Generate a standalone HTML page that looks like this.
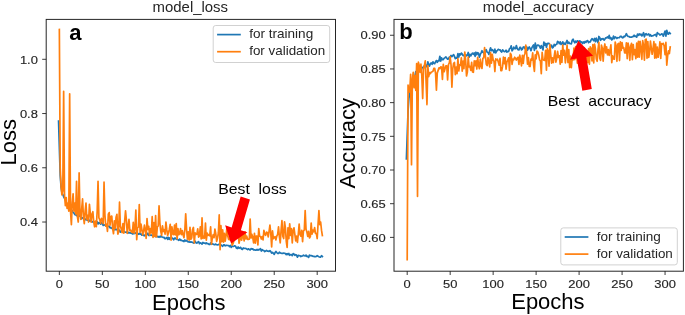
<!DOCTYPE html>
<html><head><meta charset="utf-8"><style>html,body{margin:0;padding:0;background:#fff;}svg{display:block;filter:blur(0.35px);}</style></head>
<body>
<svg width="685" height="315" viewBox="0 0 685 315" font-family="Liberation Sans, sans-serif">
<rect width="685" height="315" fill="#fff"/>
<defs>
<clipPath id="cl"><rect x="46.5" y="19.5" width="289" height="251.4"/></clipPath>
<clipPath id="cr"><rect x="394.2" y="19.5" width="289" height="251.4"/></clipPath>
</defs>
<g clip-path="url(#cl)" fill="none" stroke-linejoin="round" stroke-linecap="square">
<polyline points="58.55,121.13 60.21,175.71 61.07,186.95 61.93,192.79 62.79,194.30 63.65,196.73 64.51,198.35 65.37,199.80 66.23,203.37 67.09,204.76 67.95,205.30 68.80,206.69 69.66,208.16 70.52,210.06 71.38,210.23 72.24,210.52 73.10,212.69 73.96,212.87 74.82,214.63 75.68,214.69 76.54,215.55 77.40,214.94 78.26,216.12 79.12,215.55 79.98,216.11 80.84,216.80 81.70,218.76 82.56,217.80 83.42,217.85 84.28,218.12 85.14,219.61 85.99,219.28 86.85,220.00 87.71,220.27 88.57,219.38 89.43,221.03 90.29,220.89 91.15,220.63 92.01,221.83 92.87,221.72 93.73,221.78 94.59,222.02 95.45,223.10 96.31,222.43 97.17,221.77 98.03,223.95 98.89,222.52 99.75,223.23 100.61,224.06 101.47,222.61 102.33,223.80 103.18,225.48 104.04,224.97 104.90,224.98 105.76,225.85 106.62,225.61 107.48,226.47 108.34,226.32 109.20,226.14 110.06,227.93 110.92,227.68 111.78,228.48 112.64,228.43 113.50,229.67 114.36,229.61 115.22,229.70 116.08,229.29 116.94,229.31 117.80,231.17 118.66,231.00 119.52,230.21 120.37,232.18 121.23,231.33 122.09,231.27 122.95,230.53 123.81,231.10 124.67,231.98 125.53,232.19 126.39,232.30 127.25,231.28 128.11,232.79 128.97,232.89 129.83,232.63 130.69,233.06 131.55,233.23 132.41,233.97 133.27,233.34 134.13,233.74 134.99,232.77 135.85,233.23 136.71,233.80 137.56,233.45 138.42,234.25 139.28,233.42 140.14,234.24 141.00,233.87 141.86,235.18 142.72,234.11 143.58,235.53 144.44,235.81 145.30,234.67 146.16,235.13 147.02,234.54 147.88,233.27 148.74,235.49 149.60,235.48 150.46,235.05 151.32,234.99 152.18,235.58 153.04,235.73 153.90,235.25 154.75,235.51 155.61,236.70 156.47,236.19 157.33,236.24 158.19,237.11 159.05,236.36 159.91,237.25 160.77,236.14 161.63,236.81 162.49,237.01 163.35,237.60 164.21,237.41 165.07,238.82 165.93,238.36 166.79,237.48 167.65,239.30 168.51,237.41 169.37,239.30 170.23,237.74 171.09,238.95 171.94,237.98 172.80,238.55 173.66,239.82 174.52,238.06 175.38,238.06 176.24,239.21 177.10,239.48 177.96,239.55 178.82,240.28 179.68,239.04 180.54,240.32 181.40,240.16 182.26,240.83 183.12,240.89 183.98,241.50 184.84,239.95 185.70,241.07 186.56,240.48 187.42,241.30 188.28,241.95 189.13,241.87 189.99,242.20 190.85,241.89 191.71,242.22 192.57,242.25 193.43,243.05 194.29,242.74 195.15,241.15 196.01,242.80 196.87,243.13 197.73,242.27 198.59,241.62 199.45,243.63 200.31,242.86 201.17,243.23 202.03,244.07 202.89,242.45 203.75,243.04 204.61,243.05 205.47,243.68 206.32,242.97 207.18,243.75 208.04,243.59 208.90,244.35 209.76,244.53 210.62,242.91 211.48,244.27 212.34,243.83 213.20,244.16 214.06,244.54 214.92,244.70 215.78,244.03 216.64,244.77 217.50,244.78 218.36,244.76 219.22,244.09 220.08,244.53 220.94,244.84 221.80,245.59 222.66,246.27 223.51,244.81 224.37,244.92 225.23,245.79 226.09,245.45 226.95,245.41 227.81,245.50 228.67,245.56 229.53,246.62 230.39,245.41 231.25,247.40 232.11,246.10 232.97,246.47 233.83,246.33 234.69,245.77 235.55,246.16 236.41,248.07 237.27,248.56 238.13,246.98 238.99,248.35 239.84,247.79 240.70,247.31 241.56,249.08 242.42,249.49 243.28,247.97 244.14,248.21 245.00,248.49 245.86,248.39 246.72,249.09 247.58,249.62 248.44,248.80 249.30,249.44 250.16,249.98 251.02,248.62 251.88,249.09 252.74,248.86 253.60,249.90 254.46,249.77 255.32,250.09 256.18,250.10 257.04,249.46 257.89,250.21 258.75,249.53 259.61,249.63 260.47,248.58 261.33,251.03 262.19,249.62 263.05,250.42 263.91,250.51 264.77,251.61 265.63,251.08 266.49,250.40 267.35,251.09 268.21,251.12 269.07,251.51 269.93,250.66 270.79,251.60 271.65,253.21 272.51,252.32 273.37,253.32 274.23,254.33 275.08,252.62 275.94,251.49 276.80,252.50 277.66,253.46 278.52,253.44 279.38,252.17 280.24,252.97 281.10,253.18 281.96,253.36 282.82,253.42 283.68,253.01 284.54,253.30 285.40,253.65 286.26,254.62 287.12,253.68 287.98,254.61 288.84,253.52 289.70,255.24 290.56,254.59 291.42,254.62 292.27,255.63 293.13,253.68 293.99,253.97 294.85,255.40 295.71,254.68 296.57,255.06 297.43,257.21 298.29,255.38 299.15,255.71 300.01,255.73 300.87,256.55 301.73,256.05 302.59,256.02 303.45,255.14 304.31,255.76 305.17,256.03 306.03,255.03 306.89,256.48 307.75,256.41 308.61,257.41 309.46,255.16 310.32,255.61 311.18,255.68 312.04,255.89 312.90,256.30 313.76,256.27 314.62,256.63 315.48,256.64 316.34,256.50 317.20,255.55 318.06,256.24 318.92,256.70 319.78,257.09 320.64,257.17 321.50,255.69 322.36,256.47" stroke="#1f77b4" stroke-width="1.7"/>
<polyline points="59.35,29.47 60.21,167.78 61.07,186.76 61.93,194.90 62.79,190.83 63.65,91.30 64.51,194.90 65.37,205.75 66.23,197.61 67.09,208.46 67.95,203.04 68.80,211.17 69.66,93.74 70.52,211.17 71.38,224.73 72.24,203.04 73.10,193.82 73.96,211.17 74.82,203.04 75.68,213.88 76.54,181.34 77.40,216.60 78.26,222.02 79.12,172.93 79.98,213.88 80.84,219.31 81.70,208.46 82.56,198.97 83.42,216.60 84.28,223.65 85.14,211.17 85.99,203.04 86.85,219.31 87.71,215.27 88.57,222.02 89.43,204.36 90.29,213.34 91.15,222.20 92.01,214.02 92.87,211.70 93.73,222.02 94.59,226.77 95.45,221.04 96.31,226.63 97.17,211.23 98.03,181.34 98.89,217.83 99.75,219.54 100.61,223.43 101.47,218.40 102.33,219.71 103.18,223.54 104.04,182.15 104.90,214.86 105.76,226.13 106.62,224.24 107.48,231.29 108.34,214.16 109.20,212.53 110.06,225.14 110.92,216.47 111.78,216.05 112.64,228.28 113.50,233.75 114.36,220.93 115.22,228.53 116.08,217.16 116.94,214.28 117.80,234.05 118.66,232.00 119.52,202.22 120.37,225.93 121.23,228.91 122.09,232.61 122.95,223.65 123.81,233.26 124.67,220.98 125.53,210.90 126.39,219.89 127.25,233.35 128.11,226.32 128.97,219.23 129.83,230.64 130.69,230.04 131.55,232.12 132.41,232.64 133.27,222.41 134.13,233.07 134.99,227.55 135.85,210.09 136.71,239.63 137.56,227.62 138.42,227.13 139.28,204.59 140.14,232.45 141.00,224.19 141.86,229.42 142.72,234.85 143.58,231.06 144.44,225.10 145.30,230.07 146.16,238.33 147.02,218.49 147.88,229.34 148.74,226.43 149.60,235.21 150.46,228.56 151.32,232.91 152.18,216.70 153.04,237.50 153.90,222.55 154.75,236.34 155.61,215.51 156.47,237.01 157.33,226.97 158.19,225.99 159.05,205.75 159.91,223.34 160.77,231.34 161.63,235.31 162.49,225.89 163.35,231.47 164.21,229.76 165.07,234.09 165.93,222.02 166.79,229.68 167.65,235.61 168.51,232.74 169.37,229.14 170.23,224.25 171.09,240.12 171.94,226.85 172.80,233.93 173.66,234.64 174.52,225.05 175.38,235.02 176.24,223.65 177.10,239.01 177.96,228.65 178.82,234.69 179.68,233.77 180.54,228.60 181.40,234.67 182.26,230.53 183.12,234.93 183.98,237.66 184.84,229.71 185.70,213.88 186.56,229.17 187.42,239.17 188.28,231.76 189.13,240.08 189.99,227.26 190.85,239.45 191.71,237.95 192.57,229.58 193.43,227.44 194.29,243.00 195.15,232.91 196.01,234.37 196.87,234.43 197.73,228.89 198.59,237.15 199.45,235.70 200.31,226.91 201.17,238.99 202.03,217.95 202.89,238.37 203.75,236.32 204.61,238.01 205.47,223.03 206.32,240.26 207.18,233.11 208.04,235.43 208.90,234.71 209.76,235.77 210.62,226.76 211.48,244.20 212.34,237.87 213.20,234.70 214.06,237.73 214.92,229.04 215.78,233.62 216.64,241.32 217.50,238.16 218.36,233.00 219.22,214.97 220.08,249.61 220.94,225.71 221.80,241.59 222.66,229.76 223.51,242.13 224.37,233.43 225.23,241.12 226.09,235.23 226.95,227.60 227.81,236.24 228.67,239.47 229.53,238.99 230.39,240.44 231.25,233.78 232.11,245.07 232.97,243.72 233.83,241.00 234.69,239.54 235.55,232.90 236.41,237.49 237.27,232.76 238.13,225.36 238.99,243.20 239.84,239.52 240.70,234.45 241.56,240.20 242.42,236.55 243.28,234.88 244.14,240.80 245.00,231.75 245.86,238.94 246.72,236.17 247.58,239.32 248.44,239.36 249.30,239.27 250.16,219.01 251.02,238.05 251.88,234.44 252.74,237.26 253.60,242.97 254.46,233.23 255.32,243.11 256.18,236.17 257.04,236.18 257.89,244.91 258.75,228.52 259.61,236.28 260.47,236.52 261.33,239.05 262.19,236.56 263.05,239.81 263.91,230.34 264.77,234.15 265.63,235.26 266.49,232.17 267.35,232.59 268.21,236.96 269.07,231.32 269.93,225.13 270.79,233.46 271.65,246.84 272.51,230.80 273.37,238.65 274.23,237.50 275.08,236.61 275.94,239.93 276.80,236.17 277.66,234.41 278.52,226.85 279.38,236.70 280.24,242.81 281.10,230.22 281.96,220.69 282.82,236.22 283.68,238.56 284.54,221.75 285.40,227.99 286.26,241.30 287.12,247.43 287.98,227.80 288.84,238.71 289.70,223.92 290.56,235.36 291.42,228.58 292.27,242.88 293.13,230.49 293.99,227.81 294.85,234.43 295.71,240.84 296.57,236.10 297.43,242.32 298.29,234.24 299.15,224.06 300.01,234.51 300.87,236.23 301.73,230.39 302.59,241.60 303.45,231.04 304.31,230.01 305.17,210.63 306.03,229.30 306.89,232.10 307.75,236.36 308.61,231.34 309.46,238.00 310.32,236.64 311.18,223.06 312.04,234.08 312.90,230.16 313.76,231.82 314.62,227.55 315.48,233.31 316.34,233.47 317.20,238.55 318.06,223.94 318.92,210.63 319.78,224.73 320.64,222.02 321.50,230.16 322.36,235.58" stroke="#ff7f0e" stroke-width="1.7"/>
</g>
<g clip-path="url(#cr)" fill="none" stroke-linejoin="round" stroke-linecap="square">
<polyline points="406.40,158.82 408.06,110.72 408.92,98.28 409.78,93.21 410.64,84.65 411.50,81.79 412.36,80.63 413.22,76.52 414.08,76.21 414.94,76.04 415.80,71.52 416.65,71.66 417.51,71.31 418.37,69.25 419.23,68.04 420.09,68.27 420.95,71.57 421.81,68.09 422.67,67.36 423.53,67.84 424.39,65.79 425.25,64.01 426.11,66.19 426.97,66.83 427.83,61.83 428.69,65.19 429.55,66.03 430.41,63.54 431.27,62.95 432.13,64.31 432.99,61.78 433.84,63.36 434.70,63.69 435.56,61.74 436.42,60.55 437.28,62.31 438.14,60.57 439.00,60.88 439.86,56.24 440.72,61.16 441.58,57.84 442.44,59.75 443.30,59.65 444.16,58.17 445.02,57.70 445.88,56.92 446.74,58.10 447.60,59.25 448.46,58.94 449.32,57.17 450.18,56.85 451.03,55.42 451.89,56.65 452.75,55.48 453.61,54.59 454.47,56.37 455.33,58.60 456.19,57.93 457.05,58.16 457.91,53.57 458.77,57.10 459.63,53.92 460.49,54.79 461.35,53.02 462.21,53.98 463.07,55.53 463.93,55.58 464.79,55.07 465.65,54.84 466.51,55.79 467.37,54.96 468.22,52.44 469.08,57.25 469.94,54.25 470.80,55.89 471.66,54.18 472.52,53.09 473.38,54.30 474.24,52.95 475.10,56.34 475.96,52.22 476.82,54.64 477.68,52.71 478.54,53.24 479.40,57.23 480.26,54.40 481.12,52.83 481.98,50.74 482.84,52.50 483.70,52.42 484.56,54.78 485.41,50.45 486.27,49.77 487.13,52.27 487.99,52.51 488.85,54.45 489.71,50.61 490.57,47.78 491.43,50.59 492.29,49.65 493.15,50.59 494.01,52.72 494.87,49.15 495.73,52.83 496.59,51.18 497.45,50.32 498.31,49.29 499.17,49.85 500.03,49.76 500.89,51.33 501.75,51.98 502.60,49.86 503.46,50.89 504.32,51.66 505.18,51.47 506.04,50.21 506.90,52.11 507.76,51.24 508.62,51.55 509.48,48.73 510.34,48.28 511.20,45.79 512.06,50.87 512.92,49.54 513.78,47.06 514.64,48.61 515.50,48.66 516.36,45.52 517.22,48.52 518.08,49.70 518.93,49.91 519.79,47.43 520.65,47.44 521.51,49.90 522.37,49.29 523.23,47.01 524.09,46.91 524.95,48.69 525.81,46.78 526.67,46.82 527.53,50.28 528.39,48.07 529.25,46.96 530.11,48.39 530.97,50.68 531.83,47.84 532.69,46.22 533.55,44.90 534.41,50.40 535.27,43.19 536.12,48.64 536.98,45.47 537.84,44.98 538.70,45.26 539.56,46.40 540.42,48.22 541.28,45.53 542.14,47.38 543.00,49.89 543.86,42.11 544.72,45.06 545.58,43.40 546.44,47.19 547.30,43.67 548.16,43.36 549.02,43.27 549.88,45.33 550.74,46.82 551.60,45.24 552.46,47.89 553.32,47.04 554.17,44.42 555.03,45.75 555.89,44.47 556.75,44.25 557.61,41.34 558.47,42.05 559.33,43.71 560.19,41.89 561.05,44.39 561.91,43.65 562.77,41.85 563.63,44.53 564.49,43.12 565.35,44.36 566.21,42.42 567.07,40.41 567.93,43.42 568.79,42.11 569.65,43.48 570.50,43.74 571.36,43.78 572.22,40.32 573.08,39.13 573.94,41.43 574.80,42.86 575.66,41.04 576.52,42.26 577.38,40.81 578.24,41.38 579.10,41.33 579.96,40.87 580.82,42.25 581.68,41.98 582.54,43.49 583.40,41.90 584.26,43.00 585.12,41.42 585.98,42.31 586.84,41.01 587.69,40.54 588.55,42.65 589.41,41.88 590.27,41.94 591.13,39.86 591.99,38.62 592.85,39.46 593.71,40.68 594.57,38.49 595.43,41.69 596.29,38.19 597.15,40.44 598.01,42.65 598.87,36.48 599.73,37.53 600.59,40.28 601.45,38.81 602.31,39.09 603.17,38.60 604.03,40.21 604.88,39.18 605.74,37.77 606.60,37.96 607.46,36.82 608.32,37.98 609.18,35.41 610.04,38.71 610.90,37.56 611.76,39.88 612.62,39.08 613.48,36.18 614.34,38.59 615.20,36.91 616.06,37.48 616.92,38.48 617.78,37.65 618.64,37.76 619.50,37.66 620.36,36.24 621.22,36.27 622.08,37.54 622.93,37.82 623.79,36.46 624.65,36.80 625.51,35.51 626.37,33.68 627.23,35.57 628.09,36.44 628.95,36.52 629.81,37.18 630.67,37.19 631.53,37.25 632.39,36.55 633.25,36.54 634.11,35.24 634.97,36.42 635.83,36.16 636.69,37.21 637.55,34.10 638.41,35.28 639.26,33.86 640.12,34.88 640.98,34.10 641.84,35.91 642.70,34.83 643.56,32.67 644.42,36.81 645.28,34.22 646.14,33.62 647.00,34.93 647.86,34.52 648.72,33.93 649.58,35.95 650.44,34.76 651.30,36.09 652.16,35.84 653.02,35.73 653.88,35.18 654.74,34.82 655.60,34.45 656.46,36.41 657.31,32.69 658.17,33.52 659.03,33.92 659.89,35.02 660.75,34.67 661.61,33.93 662.47,34.01 663.33,36.19 664.19,33.54 665.05,31.15 665.91,36.18 666.77,30.33 667.63,33.69 668.49,34.14 669.35,32.50 670.21,33.43" stroke="#1f77b4" stroke-width="1.7"/>
<polyline points="407.20,259.63 408.06,85.11 408.92,92.52 409.78,90.50 410.64,74.33 411.50,164.62 412.36,79.05 413.22,72.31 414.08,87.81 414.94,75.68 415.80,90.50 416.65,63.55 417.51,196.29 418.37,62.20 419.23,65.57 420.09,72.31 420.95,64.22 421.81,75.68 422.67,98.59 423.53,68.94 424.39,65.57 425.25,60.85 426.11,82.42 426.97,104.65 427.83,65.57 428.69,76.70 429.55,72.61 430.41,73.60 431.27,72.11 432.13,71.68 432.99,71.20 433.84,68.41 434.70,68.32 435.56,73.23 436.42,90.15 437.28,72.88 438.14,70.40 439.00,67.89 439.86,68.63 440.72,66.92 441.58,67.08 442.44,79.45 443.30,64.30 444.16,71.66 445.02,68.80 445.88,65.80 446.74,65.80 447.60,79.84 448.46,64.69 449.32,62.92 450.18,56.90 451.03,64.79 451.89,87.10 452.75,68.78 453.61,63.39 454.47,62.45 455.33,74.58 456.19,67.01 457.05,73.60 457.91,58.62 458.77,71.02 459.63,64.88 460.49,65.34 461.35,57.80 462.21,71.10 463.07,61.22 463.93,68.65 464.79,52.10 465.65,60.43 466.51,76.00 467.37,72.09 468.22,57.07 469.08,67.01 469.94,66.32 470.80,70.31 471.66,62.45 472.52,72.00 473.38,72.30 474.24,60.94 475.10,65.76 475.96,60.91 476.82,69.03 477.68,57.27 478.54,65.20 479.40,68.72 480.26,59.20 481.12,65.96 481.98,68.42 482.84,58.25 483.70,57.98 484.56,47.70 485.41,55.97 486.27,64.26 487.13,65.56 487.99,57.71 488.85,62.00 489.71,66.84 490.57,52.69 491.43,63.19 492.29,54.31 493.15,59.97 494.01,61.20 494.87,71.55 495.73,58.97 496.59,59.88 497.45,59.27 498.31,62.11 499.17,65.20 500.03,58.34 500.89,70.70 501.75,70.70 502.60,66.14 503.46,57.17 504.32,63.58 505.18,57.49 506.04,69.10 506.90,62.10 507.76,60.18 508.62,57.78 509.48,70.37 510.34,53.25 511.20,54.87 512.06,64.40 512.92,59.19 513.78,59.74 514.64,57.22 515.50,58.35 516.36,60.05 517.22,58.14 518.08,57.25 518.93,64.40 519.79,55.20 520.65,59.93 521.51,65.80 522.37,55.34 523.23,63.30 524.09,55.72 524.95,53.46 525.81,45.10 526.67,53.12 527.53,64.10 528.39,57.59 529.25,66.37 530.11,66.50 530.97,59.17 531.83,60.00 532.69,52.89 533.55,64.58 534.41,71.30 535.27,54.73 536.12,58.79 536.98,51.11 537.84,52.12 538.70,54.94 539.56,59.70 540.42,61.06 541.28,73.69 542.14,52.45 543.00,59.32 543.86,60.20 544.72,60.34 545.58,50.36 546.44,70.19 547.30,48.67 548.16,51.07 549.02,66.13 549.88,44.30 550.74,54.85 551.60,63.06 552.46,57.86 553.32,62.52 554.17,56.27 555.03,50.89 555.89,62.11 556.75,58.60 557.61,51.32 558.47,57.30 559.33,55.78 560.19,64.14 561.05,50.49 561.91,62.35 562.77,45.10 563.63,55.15 564.49,50.45 565.35,62.80 566.21,55.00 567.07,45.17 567.93,62.54 568.79,49.64 569.65,67.54 570.50,56.00 571.36,67.58 572.22,58.00 573.08,60.00 573.94,48.15 574.80,59.67 575.66,46.48 576.52,53.56 577.38,63.21 578.24,49.05 579.10,55.00 579.96,53.52 580.82,48.43 581.68,64.03 582.54,60.54 583.40,48.46 584.26,47.84 585.12,63.55 585.98,55.79 586.84,52.96 587.69,62.73 588.55,48.68 589.41,64.11 590.27,46.88 591.13,48.72 591.99,60.91 592.85,44.67 593.71,63.00 594.57,44.16 595.43,49.00 596.29,59.01 597.15,61.27 598.01,49.41 598.87,42.27 599.73,58.29 600.59,60.31 601.45,45.13 602.31,48.30 603.17,61.13 604.03,48.42 604.88,43.96 605.74,52.81 606.60,46.80 607.46,54.99 608.32,49.63 609.18,55.41 610.04,50.42 610.90,44.89 611.76,62.59 612.62,55.91 613.48,58.93 614.34,59.19 615.20,42.05 616.06,45.97 616.92,61.31 617.78,44.12 618.64,43.37 619.50,60.54 620.36,41.95 621.22,50.42 622.08,42.53 622.93,48.04 623.79,47.56 624.65,52.85 625.51,52.85 626.37,42.75 627.23,58.62 628.09,43.06 628.95,47.67 629.81,60.30 630.67,46.10 631.53,43.27 632.39,59.72 633.25,44.56 634.11,54.55 634.97,49.68 635.83,58.66 636.69,43.20 637.55,57.08 638.41,41.30 639.26,57.18 640.12,41.25 640.98,48.63 641.84,59.28 642.70,40.61 643.56,45.20 644.42,60.24 645.28,39.74 646.14,39.06 647.00,58.28 647.86,41.60 648.72,57.46 649.58,52.73 650.44,41.08 651.30,48.09 652.16,54.26 653.02,48.69 653.88,41.49 654.74,58.22 655.60,44.06 656.46,57.95 657.31,47.04 658.17,57.25 659.03,51.79 659.89,41.74 660.75,58.46 661.61,43.54 662.47,44.18 663.33,43.41 664.19,46.07 665.05,54.66 665.91,42.41 666.77,65.20 667.63,56.01 668.49,50.86 669.35,53.52 670.21,47.00" stroke="#ff7f0e" stroke-width="1.7"/>
</g>
<rect x="46.2" y="19.4" width="289.3" height="251.8" fill="none" stroke="#262626" stroke-width="1"/>
<rect x="394.0" y="19.4" width="289.4" height="251.8" fill="none" stroke="#262626" stroke-width="1"/>
<line x1="59.35" y1="271" x2="59.35" y2="275" stroke="#262626" stroke-width="0.9"/><text x="59.35" y="287.6" text-anchor="middle" font-size="11.8" textLength="7.2" lengthAdjust="spacingAndGlyphs" fill="#262626" stroke="#262626" stroke-width="0.15">0</text><line x1="102.33" y1="271" x2="102.33" y2="275" stroke="#262626" stroke-width="0.9"/><text x="102.33" y="287.6" text-anchor="middle" font-size="11.8" textLength="14.4" lengthAdjust="spacingAndGlyphs" fill="#262626" stroke="#262626" stroke-width="0.15">50</text><line x1="145.30" y1="271" x2="145.30" y2="275" stroke="#262626" stroke-width="0.9"/><text x="145.30" y="287.6" text-anchor="middle" font-size="11.8" textLength="21.6" lengthAdjust="spacingAndGlyphs" fill="#262626" stroke="#262626" stroke-width="0.15">100</text><line x1="188.28" y1="271" x2="188.28" y2="275" stroke="#262626" stroke-width="0.9"/><text x="188.28" y="287.6" text-anchor="middle" font-size="11.8" textLength="21.6" lengthAdjust="spacingAndGlyphs" fill="#262626" stroke="#262626" stroke-width="0.15">150</text><line x1="231.25" y1="271" x2="231.25" y2="275" stroke="#262626" stroke-width="0.9"/><text x="231.25" y="287.6" text-anchor="middle" font-size="11.8" textLength="21.6" lengthAdjust="spacingAndGlyphs" fill="#262626" stroke="#262626" stroke-width="0.15">200</text><line x1="274.23" y1="271" x2="274.23" y2="275" stroke="#262626" stroke-width="0.9"/><text x="274.23" y="287.6" text-anchor="middle" font-size="11.8" textLength="21.6" lengthAdjust="spacingAndGlyphs" fill="#262626" stroke="#262626" stroke-width="0.15">250</text><line x1="317.20" y1="271" x2="317.20" y2="275" stroke="#262626" stroke-width="0.9"/><text x="317.20" y="287.6" text-anchor="middle" font-size="11.8" textLength="21.6" lengthAdjust="spacingAndGlyphs" fill="#262626" stroke="#262626" stroke-width="0.15">300</text><line x1="407.20" y1="271" x2="407.20" y2="275" stroke="#262626" stroke-width="0.9"/><text x="407.20" y="287.6" text-anchor="middle" font-size="11.8" textLength="7.2" lengthAdjust="spacingAndGlyphs" fill="#262626" stroke="#262626" stroke-width="0.15">0</text><line x1="450.18" y1="271" x2="450.18" y2="275" stroke="#262626" stroke-width="0.9"/><text x="450.18" y="287.6" text-anchor="middle" font-size="11.8" textLength="14.4" lengthAdjust="spacingAndGlyphs" fill="#262626" stroke="#262626" stroke-width="0.15">50</text><line x1="493.15" y1="271" x2="493.15" y2="275" stroke="#262626" stroke-width="0.9"/><text x="493.15" y="287.6" text-anchor="middle" font-size="11.8" textLength="21.6" lengthAdjust="spacingAndGlyphs" fill="#262626" stroke="#262626" stroke-width="0.15">100</text><line x1="536.12" y1="271" x2="536.12" y2="275" stroke="#262626" stroke-width="0.9"/><text x="536.12" y="287.6" text-anchor="middle" font-size="11.8" textLength="21.6" lengthAdjust="spacingAndGlyphs" fill="#262626" stroke="#262626" stroke-width="0.15">150</text><line x1="579.10" y1="271" x2="579.10" y2="275" stroke="#262626" stroke-width="0.9"/><text x="579.10" y="287.6" text-anchor="middle" font-size="11.8" textLength="21.6" lengthAdjust="spacingAndGlyphs" fill="#262626" stroke="#262626" stroke-width="0.15">200</text><line x1="622.08" y1="271" x2="622.08" y2="275" stroke="#262626" stroke-width="0.9"/><text x="622.08" y="287.6" text-anchor="middle" font-size="11.8" textLength="21.6" lengthAdjust="spacingAndGlyphs" fill="#262626" stroke="#262626" stroke-width="0.15">250</text><line x1="665.05" y1="271" x2="665.05" y2="275" stroke="#262626" stroke-width="0.9"/><text x="665.05" y="287.6" text-anchor="middle" font-size="11.8" textLength="21.6" lengthAdjust="spacingAndGlyphs" fill="#262626" stroke="#262626" stroke-width="0.15">300</text>
<line x1="42.2" y1="222.02" x2="46.2" y2="222.02" stroke="#262626" stroke-width="0.9"/><text x="37.90" y="226.22" text-anchor="end" font-size="11.8" textLength="18.0" lengthAdjust="spacingAndGlyphs" fill="#262626" stroke="#262626" stroke-width="0.15">0.4</text><line x1="42.2" y1="167.78" x2="46.2" y2="167.78" stroke="#262626" stroke-width="0.9"/><text x="37.90" y="171.98" text-anchor="end" font-size="11.8" textLength="18.0" lengthAdjust="spacingAndGlyphs" fill="#262626" stroke="#262626" stroke-width="0.15">0.6</text><line x1="42.2" y1="113.54" x2="46.2" y2="113.54" stroke="#262626" stroke-width="0.9"/><text x="37.90" y="117.74" text-anchor="end" font-size="11.8" textLength="18.0" lengthAdjust="spacingAndGlyphs" fill="#262626" stroke="#262626" stroke-width="0.15">0.8</text><line x1="42.2" y1="59.30" x2="46.2" y2="59.30" stroke="#262626" stroke-width="0.9"/><text x="37.90" y="63.50" text-anchor="end" font-size="11.8" textLength="18.0" lengthAdjust="spacingAndGlyphs" fill="#262626" stroke="#262626" stroke-width="0.15">1.0</text>
<line x1="390.0" y1="237.39" x2="394.0" y2="237.39" stroke="#262626" stroke-width="0.9"/><text x="385.70" y="241.59" text-anchor="end" font-size="11.8" textLength="25.2" lengthAdjust="spacingAndGlyphs" fill="#262626" stroke="#262626" stroke-width="0.15">0.60</text><line x1="390.0" y1="203.70" x2="394.0" y2="203.70" stroke="#262626" stroke-width="0.9"/><text x="385.70" y="207.90" text-anchor="end" font-size="11.8" textLength="25.2" lengthAdjust="spacingAndGlyphs" fill="#262626" stroke="#262626" stroke-width="0.15">0.65</text><line x1="390.0" y1="170.01" x2="394.0" y2="170.01" stroke="#262626" stroke-width="0.9"/><text x="385.70" y="174.21" text-anchor="end" font-size="11.8" textLength="25.2" lengthAdjust="spacingAndGlyphs" fill="#262626" stroke="#262626" stroke-width="0.15">0.70</text><line x1="390.0" y1="136.32" x2="394.0" y2="136.32" stroke="#262626" stroke-width="0.9"/><text x="385.70" y="140.52" text-anchor="end" font-size="11.8" textLength="25.2" lengthAdjust="spacingAndGlyphs" fill="#262626" stroke="#262626" stroke-width="0.15">0.75</text><line x1="390.0" y1="102.63" x2="394.0" y2="102.63" stroke="#262626" stroke-width="0.9"/><text x="385.70" y="106.83" text-anchor="end" font-size="11.8" textLength="25.2" lengthAdjust="spacingAndGlyphs" fill="#262626" stroke="#262626" stroke-width="0.15">0.80</text><line x1="390.0" y1="68.94" x2="394.0" y2="68.94" stroke="#262626" stroke-width="0.9"/><text x="385.70" y="73.14" text-anchor="end" font-size="11.8" textLength="25.2" lengthAdjust="spacingAndGlyphs" fill="#262626" stroke="#262626" stroke-width="0.15">0.85</text><line x1="390.0" y1="35.25" x2="394.0" y2="35.25" stroke="#262626" stroke-width="0.9"/><text x="385.70" y="39.45" text-anchor="end" font-size="11.8" textLength="25.2" lengthAdjust="spacingAndGlyphs" fill="#262626" stroke="#262626" stroke-width="0.15">0.90</text>
<text x="190.3" y="11.8" text-anchor="middle" font-size="14.4" textLength="75.5" lengthAdjust="spacingAndGlyphs" fill="#262626">model_loss</text>
<text x="538.3" y="11.8" text-anchor="middle" font-size="14.4" textLength="111" lengthAdjust="spacingAndGlyphs" fill="#262626">model_accuracy</text>
<text transform="translate(188.7,309.7) scale(1,1.04)" text-anchor="middle" font-size="22" fill="#000">Epochs</text>
<text transform="translate(547.9,308.6) scale(1,1.04)" text-anchor="middle" font-size="22" fill="#000">Epochs</text>
<text transform="translate(16.3,142.2) rotate(-90) scale(1,1.04)" text-anchor="middle" font-size="22" fill="#000">Loss</text>
<text transform="translate(355.1,143.2) rotate(-90) scale(1,1.04)" text-anchor="middle" font-size="22" fill="#000">Accuracy</text>
<text x="69.2" y="39.6" font-size="22" font-weight="bold" fill="#000">a</text>
<text x="399.2" y="39.3" font-size="22" font-weight="bold" fill="#000">b</text>
<rect x="213.2" y="25.5" width="116.5" height="37" rx="2.5" fill="#fff" fill-opacity="0.8" stroke="#cccccc" stroke-width="0.9"/><line x1="217.1" y1="34.6" x2="240.8" y2="34.6" stroke="#1f77b4" stroke-width="1.7"/><line x1="217.1" y1="51.7" x2="240.8" y2="51.7" stroke="#ff7f0e" stroke-width="1.7"/><text x="249.2" y="38.1" font-size="13.2" textLength="64" lengthAdjust="spacingAndGlyphs" fill="#262626">for training</text><text x="249.2" y="55.1" font-size="13.2" textLength="76" lengthAdjust="spacingAndGlyphs" fill="#262626">for validation</text>
<rect x="560.8" y="227.9" width="116.5" height="37" rx="2.5" fill="#fff" fill-opacity="0.8" stroke="#cccccc" stroke-width="0.9"/><line x1="564.7" y1="237.0" x2="588.4" y2="237.0" stroke="#1f77b4" stroke-width="1.7"/><line x1="564.7" y1="254.1" x2="588.4" y2="254.1" stroke="#ff7f0e" stroke-width="1.7"/><text x="596.8" y="240.5" font-size="13.2" textLength="64" lengthAdjust="spacingAndGlyphs" fill="#262626">for training</text><text x="596.8" y="257.5" font-size="13.2" textLength="76" lengthAdjust="spacingAndGlyphs" fill="#262626">for validation</text>
<polygon points="240.67,196.55 231.62,227.40 225.13,225.37 231.10,243.40 247.37,232.33 240.88,230.30 249.93,199.45" fill="#ff0000"/>
<polygon points="591.78,89.01 586.28,56.91 593.07,55.70 578.30,40.70 570.03,59.80 576.82,58.59 582.32,90.69" fill="#ff0000"/>
<text x="218.2" y="193.6" font-size="15" textLength="68.5" lengthAdjust="spacingAndGlyphs" fill="#000" xml:space="preserve">Best  loss</text>
<text x="547.8" y="105.5" font-size="15" textLength="103.8" lengthAdjust="spacingAndGlyphs" fill="#000" xml:space="preserve">Best  accuracy</text>
</svg>
</body></html>
